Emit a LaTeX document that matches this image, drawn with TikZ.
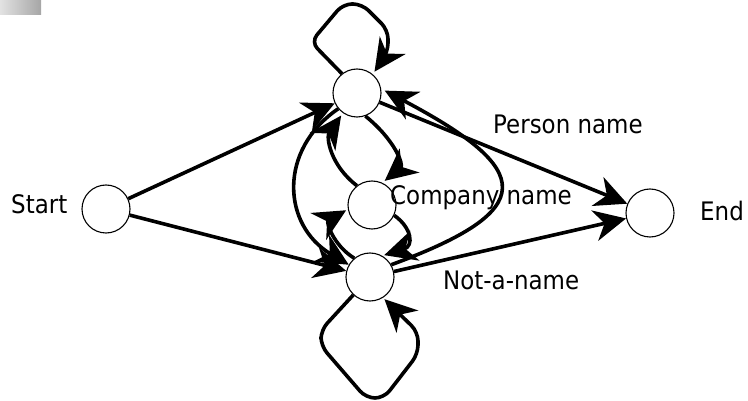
\documentclass[tikz,border=0pt]{standalone}
\usepackage{fontspec}
\setmainfont{DejaVu Sans}[FakeStretch=0.9]
\usetikzlibrary{arrows.meta}
\begin{document}
\begin{tikzpicture}[x=1pt,y=-1pt,
  state/.style={circle,draw,minimum size=48pt,inner sep=0pt,line width=1.1pt},
  edge/.style={line width=3.6pt,-{Stealth[length=32pt,width=31pt,inset=10pt]}},
  label/.style={anchor=base west,inner sep=0pt,font=\fontsize{25.5}{30}\selectfont}]
\useasboundingbox (0,0) rectangle (748,401);

% small grey tab in the corner
\shade[left color={rgb,255:red,226;green,226;blue,226},right color={rgb,255:red,166;green,166;blue,166}]
  (0,0) rectangle (41,15);

% states
\node[state] (S) at (106,209) {};
\node[state] (P) at (357,93) {};
\node[state] (C) at (372,205) {};
\node[state] (N) at (370,277) {};
\node[state] (E) at (650,213) {};

% labels
\node[label] (lS) at (11,213.3) {Start};
\node[label] (lE) at (700,220.7) {End};
\node[label] (lP) at (493,133.3) {Person name};
\node[label] (lC) at (390,204.7) {Company name};
\node[label] (lN) at (443,290) {Not-a-name};

% transitions from the start
\draw[edge] (S) -- (P);
\draw[edge] (S) -- (N);

% transitions to the end
\draw[edge] (P) -- (E);
\draw[edge] (N) -- (E);

% self loops
\draw[edge,rounded corners=9pt,shorten >=3pt] (P.128) -- (311,42) -- (343,4) -- (362,4)
  -- (388,30) -- (388,52) -- (P.50);
\draw[edge,rounded corners=9pt,shorten >=2pt] (N.227) -- (321,330) -- (321,346) -- (366,398)
  -- (384,398) -- (418,354) -- (418,332) -- (N.-58);

% person <-> company
\draw[edge,shorten >=3pt] (P.-70) .. controls (395,140) and (404,165) .. (C.65);
\draw[edge,shorten >=3pt] (C.128) .. controls (330,165) and (326,137) .. (P.-125);

% company <-> not-a-name
\draw[edge,shorten >=2pt] (C.-25) .. controls (412,228) and (414,246) .. (N.60);
\draw[edge,shorten >=2pt] (N.130) .. controls (333,245) and (326,222) .. (C.190);

% person <-> not-a-name
\draw[edge] (P.-140) .. controls (278,150) and (282,225) .. (N.150);
\draw[edge,shorten >=4pt] (N.30) .. controls (540,210) and (535,170) .. (P.10);
\end{tikzpicture}
\end{document}
